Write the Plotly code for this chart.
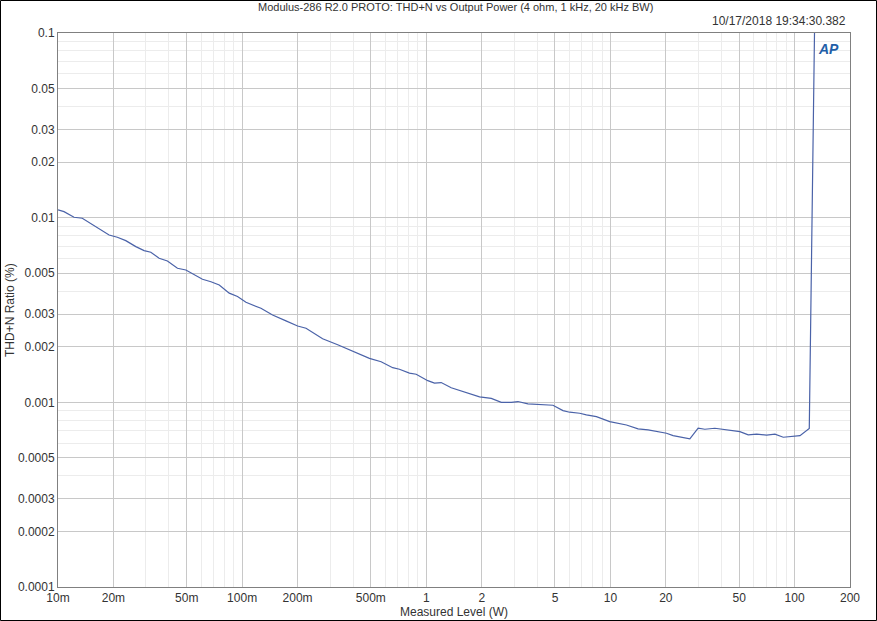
import plotly.graph_objects as go

# Measured level (W)
level_w = [0.0100, 0.01078, 0.01222, 0.01355, 0.01894, 0.0210, 0.02334, 0.02646, 0.02935, 0.03192,
           0.03541, 0.03929, 0.04454, 0.04948, 0.0609, 0.0677, 0.0751, 0.0851, 0.0944, 0.1049,
           0.1265, 0.1463, 0.1730, 0.2001, 0.2223, 0.2736, 0.3303, 0.3823, 0.4241, 0.4911,
           0.5684, 0.6572, 0.7149, 0.8100, 0.8813, 1.019, 1.108, 1.205, 1.366, 1.613,
           1.947, 2.254, 2.555, 2.895, 3.146, 3.565, 4.127, 4.875, 5.525, 6.008,
           6.809, 7.403, 8.393, 9.913, 12.22, 14.13, 16.02, 17.79, 20.16, 21.90,
           26.99, 29.95, 32.57, 36.91, 40.96, 46.43, 50.49, 56.01, 62.22, 70.52,
           78.25, 86.83, 96.43, 107.0, 120.2, 128.3]

# THD+N ratio (%)
thdn_pct = [0.01101, 0.01078, 0.01005, 0.00993, 0.00806, 0.00783, 0.00751, 0.00697, 0.00663, 0.00650,
            0.00603, 0.00583, 0.00532, 0.00521, 0.00464, 0.00450, 0.00432, 0.00390, 0.00374, 0.00348,
            0.00323, 0.00297, 0.00276, 0.00259, 0.00252, 0.00221, 0.00205, 0.00192, 0.00184, 0.00173,
            0.00166, 0.00154, 0.00151, 0.00144, 0.00142, 0.00131, 0.00127, 0.00128, 0.00120, 0.00114,
            0.00107, 0.00105, 0.00100, 0.00100, 0.00101, 0.00098, 0.000972, 0.000964, 0.000902, 0.000884,
            0.000873, 0.000855, 0.000837, 0.000786, 0.000754, 0.000718, 0.000709, 0.000694, 0.000680, 0.000660,
            0.000634, 0.000724, 0.000715, 0.000724, 0.000715, 0.000700, 0.000694, 0.000666, 0.000672, 0.000664,
            0.000672, 0.000647, 0.000652, 0.000660, 0.000721, 0.1]

x_tick_vals = [0.01, 0.02, 0.05, 0.1, 0.2, 0.5, 1, 2, 5, 10, 20, 50, 100, 200]
x_tick_text = ["10m", "20m", "50m", "100m", "200m", "500m", "1", "2", "5", "10", "20", "50", "100", "200"]
y_tick_vals = [0.1, 0.05, 0.03, 0.02, 0.01, 0.005, 0.003, 0.002, 0.001, 0.0005, 0.0003, 0.0002, 0.0001]
y_tick_text = ["0.1", "0.05", "0.03", "0.02", "0.01", "0.005", "0.003", "0.002", "0.001", "0.0005", "0.0003", "0.0002", "0.0001"]

x_minor = [m * 10 ** e for e in range(-2, 3) for m in range(1, 10) if 0.01 <= m * 10 ** e <= 200]
y_minor = [m * 10 ** e for e in range(-4, 0) for m in range(1, 10) if 0.0001 <= m * 10 ** e <= 0.1]

W, H = 877, 621
L, R, T, B = 58, 27, 33, 34
PW, PH = W - L - R, H - T - B

FONT = "Liberation Sans, Arial, sans-serif"
TXT = "#333333"

fig = go.Figure()
fig.add_trace(go.Scatter(x=level_w, y=thdn_pct, mode="lines",
                         line=dict(color="#4a62a8", width=1.2), showlegend=False))

fig.update_layout(
    width=W, height=H,
    margin=dict(l=L, r=R, t=T, b=B, autoexpand=False),
    paper_bgcolor="white", plot_bgcolor="white",
    font=dict(family=FONT, size=12, color=TXT),
    xaxis=dict(type="log", range=[-2, 2.30103], automargin=False,
               tickvals=x_tick_vals, ticktext=x_tick_text,
               showgrid=True, gridcolor="#c8c8c8", gridwidth=1,
               minor=dict(tickvals=x_minor, showgrid=True, gridcolor="#ececec", ticks=""),
               showline=True, linecolor="#808080", linewidth=1, mirror=True,
               ticks="", zeroline=False, ticklabelstandoff=0,
               title=dict(text="Measured Level (W)", standoff=0, font=dict(size=12)),
               tickfont=dict(size=12)),
    yaxis=dict(type="log", range=[-4, -1], automargin=False,
               tickvals=y_tick_vals, ticktext=y_tick_text,
               showgrid=True, gridcolor="#c8c8c8", gridwidth=1,
               minor=dict(tickvals=y_minor, showgrid=True, gridcolor="#ececec", ticks=""),
               showline=True, linecolor="#808080", linewidth=1, mirror=True,
               ticks="", zeroline=False,
               tickfont=dict(size=12)),
    annotations=[
        dict(text="Modulus-286 R2.0 PROTO: THD+N vs Output Power (4 ohm, 1 kHz, 20 kHz BW)",
             xref="paper", yref="paper", x=(455 - L) / PW, y=1 + 26 / PH,
             xanchor="center", yanchor="middle", showarrow=False, font=dict(size=11, color=TXT)),
        dict(text="10/17/2018 19:34:30.382",
             xref="paper", yref="paper", x=1 - 2 / PW, y=1 + 12 / PH,
             xanchor="right", yanchor="middle", showarrow=False, font=dict(size=12, color=TXT)),
        dict(text="THD+N Ratio (%)", textangle=-90,
             xref="paper", yref="paper", x=(10 - L) / PW, y=(621 - B - 310) / PH,
             xanchor="center", yanchor="middle", showarrow=False, font=dict(size=12, color=TXT)),
        dict(text="<b><i>AP</i></b>",
             xref="paper", yref="paper", x=1 - 22 / PW, y=1 - 16 / PH,
             xanchor="center", yanchor="middle", showarrow=False,
             font=dict(size=14, color="#1f5fa8", family=FONT)),
    ],
    shapes=[
        dict(type="rect", xref="paper", yref="paper",
             x0=-(L - 0.5) / PW, x1=1 + (R - 0.5) / PW,
             y0=-(B - 0.5) / PH, y1=1 + (T - 0.5) / PH,
             line=dict(color="black", width=1), fillcolor="rgba(0,0,0,0)", layer="above"),
    ],
)

fig.write_html("out.html", config={"displayModeBar": False},
               post_script="document.body.style.margin='0px';document.body.style.padding='0px';")
